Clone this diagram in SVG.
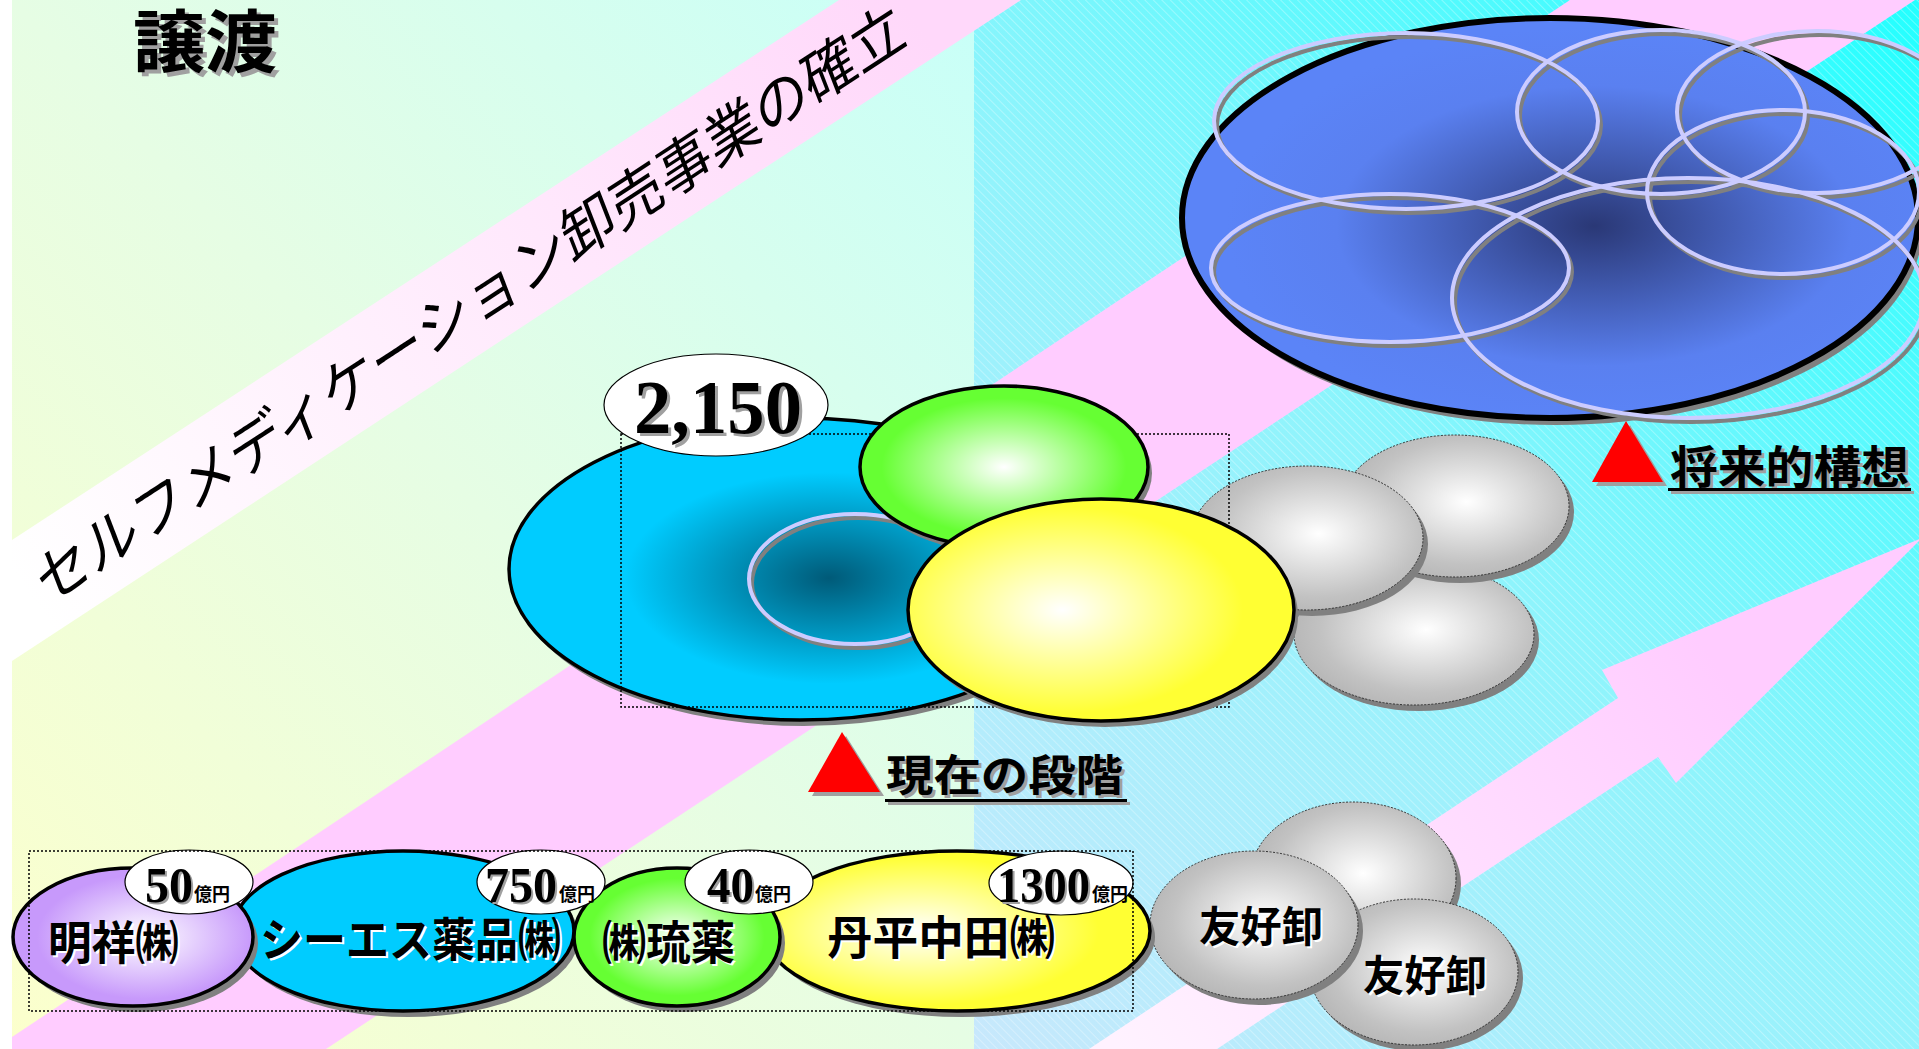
<svg xmlns="http://www.w3.org/2000/svg" width="1919" height="1049" viewBox="0 0 1919 1049">
<defs>
  <linearGradient id="leftBg" x1="0" y1="1" x2="1" y2="0">
    <stop offset="0" stop-color="#fcffcc"/>
    <stop offset="0.5" stop-color="#e6fde4"/>
    <stop offset="1" stop-color="#c8fff8"/>
  </linearGradient>
  <linearGradient id="rightBg" gradientUnits="userSpaceOnUse" x1="974" y1="1049" x2="1919" y2="0">
    <stop offset="0" stop-color="#c8e8fc"/>
    <stop offset="0.5" stop-color="#8ef4fc"/>
    <stop offset="1" stop-color="#22ffff"/>
  </linearGradient>
  <linearGradient id="bandG" gradientUnits="userSpaceOnUse" x1="60" y1="640" x2="930" y2="40">
    <stop offset="0" stop-color="#ffffff"/>
    <stop offset="1" stop-color="#ffd8fa"/>
  </linearGradient>
  <linearGradient id="arrowG" gradientUnits="userSpaceOnUse" x1="1120" y1="1049" x2="1700" y2="640">
    <stop offset="0" stop-color="#fff2ff"/>
    <stop offset="1" stop-color="#ffccff"/>
  </linearGradient>
  <pattern id="hatch" width="6" height="6" patternUnits="userSpaceOnUse" patternTransform="rotate(45)">
    <line x1="0" y1="0.5" x2="6" y2="0.5" stroke="#ffffff" stroke-opacity="0.3" stroke-width="1"/>
  </pattern>
  <radialGradient id="blueG" cx="0.56" cy="0.52" r="0.5">
    <stop offset="0" stop-color="#2a3876"/>
    <stop offset="0.7" stop-color="#5a80f0"/>
    <stop offset="1" stop-color="#5b84f7"/>
  </radialGradient>
  <radialGradient id="cyanG" cx="0.55" cy="0.53" r="0.5">
    <stop offset="0" stop-color="#005a78"/>
    <stop offset="0.7" stop-color="#00ccff"/>
    <stop offset="1" stop-color="#00ccff"/>
  </radialGradient>
  <radialGradient id="greenG" cx="0.5" cy="0.5" r="0.5">
    <stop offset="0" stop-color="#ffffff"/>
    <stop offset="0.85" stop-color="#66ff33"/>
  </radialGradient>
  <radialGradient id="yellowG" cx="0.4" cy="0.5" r="0.55">
    <stop offset="0" stop-color="#ffffff"/>
    <stop offset="0.85" stop-color="#ffff33"/>
  </radialGradient>
  <radialGradient id="purpleG" cx="0.55" cy="0.5" r="0.5">
    <stop offset="0" stop-color="#ffffff"/>
    <stop offset="0.9" stop-color="#c799fb"/>
  </radialGradient>
  <radialGradient id="grayG" cx="0.55" cy="0.47" r="0.55">
    <stop offset="0" stop-color="#ffffff"/>
    <stop offset="0.8" stop-color="#c2c2c2"/>
    <stop offset="1" stop-color="#b8b8b8"/>
  </radialGradient>
</defs>
<style>
  .jp{font-family:"Noto Sans CJK JP","Noto Sans CJK SC",sans-serif;font-weight:700}
  .num{font-family:"Liberation Serif","Times New Roman",serif;font-weight:700}
  .sh{fill:#808080}
  .ol{stroke:#000;stroke-width:3.5}
  .lab{fill:#fff;stroke:#000;stroke-width:1.2}
  .gray{fill:url(#grayG);stroke:#333;stroke-width:1;stroke-dasharray:2 1.5}
  .ring{fill:none;stroke:#ccccff;stroke-width:4}
  .ringsh{fill:none;stroke:#808080;stroke-width:4}
  .dot{fill:none;stroke:#000;stroke-width:1.5;stroke-dasharray:2 2}
  .wsh{fill:#fff}
  .gsh{fill:#a0a0a0}
</style>

<g id="background">
  <rect width="1919" height="1049" fill="#fff"/>
  <rect x="12" y="0" width="962" height="1049" fill="url(#leftBg)"/>
  <rect x="974" y="0" width="945" height="1049" fill="url(#rightBg)"/>
  <rect x="974" y="0" width="945" height="1049" fill="url(#hatch)"/>
  <polygon points="12,1037 1570,0 1915,0 326,1049 12,1049" fill="#ffccff"/>
  <polygon points="12,540 839,0 1021,0 12,661" fill="url(#bandG)"/>
  <polygon points="1089,1049 1618,698 1602,670 1922,538 1676,783 1658,757 1217,1049" fill="url(#arrowG)"/>
</g>

<g id="connectors"></g>

<g id="title">
  <text class="jp gsh" x="137" y="71" font-size="68" textLength="144" lengthAdjust="spacingAndGlyphs">譲渡</text>
  <text class="jp" x="133" y="67" font-size="68" textLength="144" lengthAdjust="spacingAndGlyphs">譲渡</text>
</g>

<g id="band-text">
  <text transform="translate(470,304) rotate(-33.18) skewX(-12)" x="0" y="21" text-anchor="middle" font-size="58" textLength="1030" lengthAdjust="spacingAndGlyphs" font-family="'Noto Sans CJK JP','Noto Sans CJK SC',sans-serif" font-weight="400" fill="#000">セルフメディケーション卸売事業の確立</text>
</g>

<g id="future">
  <ellipse cx="1555" cy="225" rx="368" ry="200" class="sh"/>
  <ellipse cx="1550" cy="218" rx="368" ry="200" fill="url(#blueG)" stroke="#000" stroke-width="6"/>
  <g transform="translate(3,4)">
    <ellipse class="ringsh" cx="1406" cy="121" rx="192" ry="88"/>
    <ellipse class="ringsh" cx="1661" cy="112" rx="144" ry="82"/>
    <ellipse class="ringsh" cx="1817" cy="112" rx="140" ry="81"/>
    <ellipse class="ringsh" cx="1783" cy="192" rx="136" ry="82"/>
    <ellipse class="ringsh" cx="1390" cy="268" rx="179" ry="74"/>
    <ellipse class="ringsh" cx="1688" cy="298" rx="236" ry="120"/>
  </g>
  <ellipse class="ring" cx="1406" cy="121" rx="192" ry="88"/>
  <ellipse class="ring" cx="1661" cy="112" rx="144" ry="82"/>
  <ellipse class="ring" cx="1817" cy="112" rx="140" ry="81"/>
  <ellipse class="ring" cx="1783" cy="192" rx="136" ry="82"/>
  <ellipse class="ring" cx="1390" cy="268" rx="179" ry="74"/>
  <ellipse class="ring" cx="1688" cy="298" rx="236" ry="120"/>
</g>

<g id="future-label">
  <polygon points="1596,486 1667,486 1630,425" fill="#a0a0a0"/>
  <polygon points="1592,482 1663,482 1626,421" fill="#ff0000"/>
  <text class="jp gsh" x="1673" y="487" font-size="45" textLength="239" lengthAdjust="spacingAndGlyphs">将来的構想</text>
  <rect x="1671" y="491" width="243" height="3" fill="#a0a0a0"/>
  <text class="jp" x="1670" y="484" font-size="45" textLength="239" lengthAdjust="spacingAndGlyphs">将来的構想</text>
  <rect x="1668" y="488" width="243" height="3" fill="#000"/>
</g>

<g id="upper-gray">
  <ellipse cx="1419" cy="640" rx="120" ry="71" class="sh"/>
  <ellipse cx="1414" cy="634" rx="120" ry="71" class="gray"/>
  <ellipse cx="1460" cy="512" rx="114" ry="71" class="sh"/>
  <ellipse cx="1455" cy="506" rx="114" ry="71" class="gray"/>
  <ellipse cx="1312" cy="544" rx="116" ry="72" class="sh"/>
  <ellipse cx="1307" cy="538" rx="116" ry="72" class="gray"/>
</g>

<g id="current">
  <ellipse cx="804" cy="575" rx="291" ry="151" class="sh"/>
  <ellipse cx="800" cy="569" rx="291" ry="151" fill="url(#cyanG)" class="ol"/>
  <ellipse class="ringsh" cx="858" cy="583" rx="106" ry="65"/>
  <ellipse class="ring" cx="855" cy="579" rx="106" ry="65"/>
  <rect x="621" y="434" width="608" height="273" class="dot"/>
</g>

<g id="label-2150">
  <ellipse cx="716" cy="405" rx="112" ry="51" class="lab"/>
  <text class="num gsh" x="637" y="436" font-size="76" textLength="168" lengthAdjust="spacingAndGlyphs">2,150</text>
  <text class="num" x="634" y="433" font-size="76" textLength="168" lengthAdjust="spacingAndGlyphs">2,150</text>
</g>

<g id="current-green">
  <ellipse cx="1008" cy="473" rx="144" ry="81" class="sh"/>
  <ellipse cx="1004" cy="467" rx="144" ry="81" fill="url(#greenG)" class="ol"/>
</g>

<g id="current-yellow">
  <ellipse cx="1105" cy="616" rx="193" ry="111" class="sh"/>
  <ellipse cx="1101" cy="610" rx="193" ry="111" fill="url(#yellowG)" class="ol"/>
</g>

<g id="current-label">
  <polygon points="812,796 884,796 846,736" fill="#a0a0a0"/>
  <polygon points="808,792 880,792 842,732" fill="#ff0000"/>
  <text class="jp gsh" x="889" y="794" font-size="43" textLength="237" lengthAdjust="spacingAndGlyphs">現在の段階</text>
  <rect x="888" y="802" width="242" height="3" fill="#a0a0a0"/>
  <text class="jp" x="886" y="791" font-size="43" textLength="237" lengthAdjust="spacingAndGlyphs">現在の段階</text>
  <rect x="885" y="799" width="242" height="3" fill="#000"/>
</g>

<g id="lower-gray">
  <ellipse cx="1358" cy="884" rx="103" ry="76" class="sh"/>
  <ellipse cx="1353" cy="878" rx="103" ry="76" class="gray"/>
  <ellipse cx="1419" cy="978" rx="104" ry="73" class="sh"/>
  <ellipse cx="1414" cy="972" rx="104" ry="73" class="gray"/>
  <ellipse cx="1259" cy="931" rx="104" ry="74" class="sh"/>
  <ellipse cx="1254" cy="925" rx="104" ry="74" class="gray"/>
  <text class="jp wsh" x="1201" y="944" font-size="42" textLength="124" lengthAdjust="spacingAndGlyphs">友好卸</text>
  <text class="jp" x="1199" y="942" font-size="42" textLength="124" lengthAdjust="spacingAndGlyphs">友好卸</text>
  <text class="jp wsh" x="1365" y="993" font-size="42" textLength="124" lengthAdjust="spacingAndGlyphs">友好卸</text>
  <text class="jp" x="1363" y="991" font-size="42" textLength="124" lengthAdjust="spacingAndGlyphs">友好卸</text>
</g>

<g id="node-cs">
  <ellipse cx="408" cy="937" rx="171" ry="80" class="sh"/>
  <ellipse cx="403" cy="931" rx="171" ry="80" fill="#00ccff" class="ol"/>
</g>
<g id="node-tanpei">
  <ellipse cx="962" cy="937" rx="193" ry="80" class="sh"/>
  <ellipse cx="957" cy="931" rx="193" ry="80" fill="url(#yellowG)" class="ol"/>
</g>
<g id="node-meisho">
  <ellipse cx="138" cy="943" rx="120" ry="69" class="sh"/>
  <ellipse cx="133" cy="937" rx="120" ry="69" fill="url(#purpleG)" class="ol"/>
</g>
<g id="node-ryuyaku">
  <ellipse cx="682" cy="943" rx="103" ry="69" class="sh"/>
  <ellipse cx="677" cy="937" rx="103" ry="69" fill="url(#greenG)" class="ol"/>
</g>

<g id="names">
  <text class="jp wsh" x="50" y="961" font-size="46" textLength="131" lengthAdjust="spacingAndGlyphs">明祥㈱</text>
  <text class="jp" x="48" y="959" font-size="46" textLength="131" lengthAdjust="spacingAndGlyphs">明祥㈱</text>
  <text class="jp wsh" x="262" y="958" font-size="46" textLength="301" lengthAdjust="spacingAndGlyphs">シーエス薬品㈱</text>
  <text class="jp" x="260" y="956" font-size="46" textLength="301" lengthAdjust="spacingAndGlyphs">シーエス薬品㈱</text>
  <text class="jp wsh" x="604" y="961" font-size="46" textLength="133" lengthAdjust="spacingAndGlyphs">㈱琉薬</text>
  <text class="jp" x="602" y="959" font-size="46" textLength="133" lengthAdjust="spacingAndGlyphs">㈱琉薬</text>
  <text class="jp wsh" x="829" y="956" font-size="46" textLength="228" lengthAdjust="spacingAndGlyphs">丹平中田㈱</text>
  <text class="jp" x="827" y="954" font-size="46" textLength="228" lengthAdjust="spacingAndGlyphs">丹平中田㈱</text>
</g>

<g id="amounts">
  <ellipse cx="189" cy="882" rx="64" ry="32" class="lab"/>
  <text class="num gsh" x="147" y="904" font-size="50" textLength="48" lengthAdjust="spacingAndGlyphs">50</text>
  <text class="num" x="145" y="902" font-size="50" textLength="48" lengthAdjust="spacingAndGlyphs">50</text>
  <text class="jp" x="194" y="901" font-size="18" textLength="36" lengthAdjust="spacingAndGlyphs">億円</text>

  <ellipse cx="541" cy="882" rx="64" ry="32" class="lab"/>
  <text class="num gsh" x="487" y="904" font-size="50" textLength="72" lengthAdjust="spacingAndGlyphs">750</text>
  <text class="num" x="485" y="902" font-size="50" textLength="72" lengthAdjust="spacingAndGlyphs">750</text>
  <text class="jp" x="559" y="901" font-size="18" textLength="36" lengthAdjust="spacingAndGlyphs">億円</text>

  <ellipse cx="749" cy="882" rx="64" ry="32" class="lab"/>
  <text class="num gsh" x="709" y="904" font-size="50" textLength="47" lengthAdjust="spacingAndGlyphs">40</text>
  <text class="num" x="707" y="902" font-size="50" textLength="47" lengthAdjust="spacingAndGlyphs">40</text>
  <text class="jp" x="755" y="901" font-size="18" textLength="36" lengthAdjust="spacingAndGlyphs">億円</text>

  <ellipse cx="1061" cy="883" rx="72" ry="32" class="lab"/>
  <text class="num gsh" x="999" y="904" font-size="50" textLength="93" lengthAdjust="spacingAndGlyphs">1300</text>
  <text class="num" x="997" y="902" font-size="50" textLength="93" lengthAdjust="spacingAndGlyphs">1300</text>
  <text class="jp" x="1092" y="901" font-size="18" textLength="36" lengthAdjust="spacingAndGlyphs">億円</text>
</g>

<rect id="lower-frame" x="29" y="851" width="1104" height="160" class="dot"/>
</svg>
